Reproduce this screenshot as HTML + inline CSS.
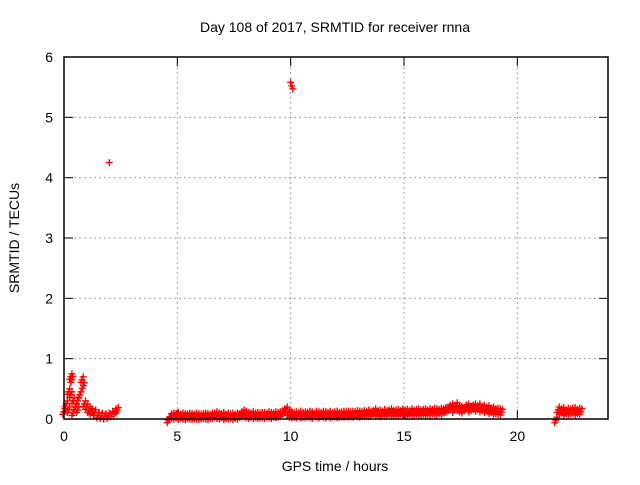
<!DOCTYPE html>
<html><head><meta charset="utf-8"><style>
body{margin:0;background:#fff}
svg text{font-family:"Liberation Sans",sans-serif;font-size:14px;fill:#000}
</style></head><body>
<svg id="chart" width="640" height="480" xmlns="http://www.w3.org/2000/svg">
<text x="335" y="32" text-anchor="middle">Day 108 of 2017, SRMTID for receiver rnna</text>
<text x="335" y="471" text-anchor="middle">GPS time / hours</text>
<text transform="translate(19,238) rotate(-90)" text-anchor="middle">SRMTID / TECUs</text>
<g id="grid"></g><g id="ticks"></g><g id="marks"></g>
<rect x="64" y="57" width="544" height="362" fill="none" stroke="#000" stroke-width="1.5"/>
</svg>
<script>
const xTicks=[0,5,10,15,20];
const yTicks=[0,1,2,3,4,5,6];
const times=[
0,0.1,0.2,0.2,0.3,0.3,0.35,0.4,0.4,0.5,
0.6,0.6,0.7,0.8,0.85,0.9,1.0,1.1,1.2,1.35,
1.5,1.65,1.8,1.95,2.0,2.1,2.25,2.35,
4.6,4.7,4.8,4.9,5.0,5.1,5.2,5.3,5.4,5.5,
5.6,5.7,5.8,5.9,6.0,6.1,6.2,6.3,6.4,6.5,
6.6,6.7,6.8,6.9,7.0,7.1,7.2,7.3,7.4,7.5,
7.6,7.7,7.8,7.9,8.0,8.1,8.2,8.3,8.4,8.5,
8.6,8.7,8.8,8.9,9.0,9.1,9.2,9.3,9.4,9.5,
9.6,9.7,9.8,9.9,10.0,10.1,10.2,10.3,10.4,10.5,
10.6,10.7,10.8,10.9,11.0,11.1,11.2,11.3,11.4,11.5,
11.6,11.7,11.8,11.9,12.0,12.1,12.2,12.3,12.4,12.5,
12.6,12.7,12.8,12.9,13.0,13.1,13.2,13.3,13.4,13.5,
13.6,13.7,13.8,13.9,14.0,14.1,14.2,14.3,14.4,14.5,
14.6,14.7,14.8,14.9,15.0,15.1,15.2,15.3,15.4,15.5,
15.6,15.7,15.8,15.9,16.0,16.1,16.2,16.3,16.4,16.5,
16.6,16.7,16.8,16.9,17.0,17.1,17.2,17.3,17.4,17.5,
17.6,17.7,17.8,17.9,18.0,18.1,18.2,18.3,18.4,18.5,
18.6,18.7,18.8,18.9,19.0,19.1,19.2,19.3,
21.7,21.8,21.9,22.0,22.1,22.2,22.3,22.4,22.5,22.6,
22.7,22.8,
10.0,10.05,10.1];
const values=[
0.12,0.25,0.45,0.15,0.7,0.4,0.65,0.3,0.1,0.2,
0.15,0.3,0.4,0.65,0.55,0.25,0.2,0.15,0.12,0.1,
0.06,0.05,0.04,0.05,4.25,0.08,0.12,0.14,
-0.02,0.04,0.05,0.04,0.06,0.03,0.05,0.04,0.03,0.05,
0.04,0.03,0.05,0.04,0.03,0.04,0.05,0.04,0.03,0.05,
0.05,0.07,0.05,0.04,0.06,0.03,0.05,0.04,0.05,0.03,
0.05,0.04,0.07,0.1,0.08,0.06,0.05,0.07,0.05,0.06,
0.05,0.06,0.06,0.05,0.07,0.06,0.05,0.07,0.06,0.07,
0.09,0.12,0.15,0.1,0.07,0.06,0.07,0.06,0.08,0.06,
0.07,0.06,0.08,0.07,0.05,0.08,0.07,0.06,0.08,0.07,
0.06,0.08,0.06,0.07,0.08,0.06,0.07,0.08,0.07,0.08,
0.07,0.08,0.07,0.09,0.08,0.07,0.09,0.08,0.1,0.08,
0.09,0.12,0.09,0.1,0.08,0.11,0.09,0.1,0.12,0.09,
0.1,0.11,0.09,0.12,0.1,0.11,0.09,0.12,0.1,0.11,
0.12,0.1,0.11,0.12,0.1,0.12,0.11,0.13,0.12,0.11,
0.13,0.12,0.14,0.15,0.18,0.2,0.15,0.22,0.18,0.16,
0.14,0.18,0.2,0.16,0.18,0.2,0.17,0.2,0.16,0.18,
0.15,0.17,0.13,0.15,0.12,0.13,0.12,0.11,
-0.02,0.15,0.12,0.14,0.1,0.13,0.12,0.13,0.14,0.11,
0.13,0.12,
5.58,5.52,5.47];
const svg=document.getElementById('chart');
const NS='http://www.w3.org/2000/svg';
const xs=v=>64+v*(544/24), ys=v=>419-v*(362/6);
function mk(tag,attrs,parent){const e=document.createElementNS(NS,tag);for(const k in attrs)e.setAttribute(k,attrs[k]);parent.appendChild(e);return e;}
const grid=document.getElementById('grid'),ticks=document.getElementById('ticks'),marks=document.getElementById('marks');
xTicks.forEach(t=>{const x=xs(t);
 if(t>0){const g=mk('line',{x1:x,x2:x,y1:57,y2:419,stroke:'#a0a0a0','stroke-dasharray':'2,3'},grid);
 
 }
 mk('line',{x1:x,x2:x,y1:419,y2:410,stroke:'#000'},ticks);mk('line',{x1:x,x2:x,y1:57,y2:66,stroke:'#000'},ticks);
 const l=mk('text',{x:x,y:441,'text-anchor':'middle'},ticks);l.textContent=t;
 
 });
yTicks.forEach(t=>{const y=ys(t);
 if(t>0&&t<6){const g=mk('line',{x1:64,x2:608,y1:y,y2:y,stroke:'#a0a0a0','stroke-dasharray':'2,3'},grid);
 
 }
 mk('line',{x1:64,x2:73,y1:y,y2:y,stroke:'#000'},ticks);mk('line',{x1:608,x2:599,y1:y,y2:y,stroke:'#000'},ticks);
 const l=mk('text',{x:53,y:y+5,'text-anchor':'end'},ticks);l.textContent=t;
 
 });
function plus(x,y){
 const p=mk('path',{d:`M${x-3.5},${y}H${x+3.5}M${x},${y-3.5}V${y+3.5}`,stroke:'#ff0000','stroke-width':1.4,fill:'none'},marks);
 
 
}
times.forEach((t,i)=>{const x=xs(t),y=ys(values[i]);
 plus(x,y);
 if(values[i]<1){plus(x+1.1,y-3);plus(x-1.1,y+2.5);}
});
</script>
</body></html>
